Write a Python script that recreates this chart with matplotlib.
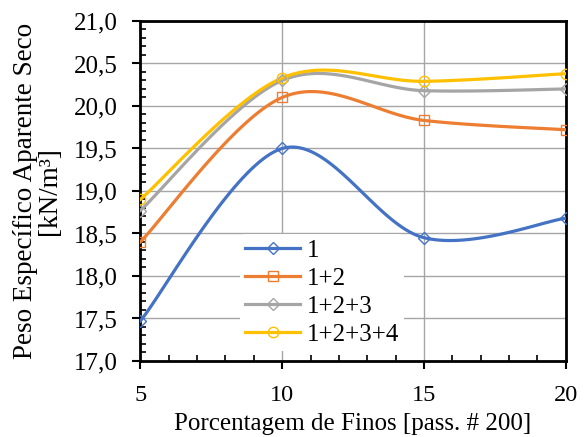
import numpy as np
import matplotlib
matplotlib.use("Agg")
import matplotlib.pyplot as plt
from matplotlib.ticker import MultipleLocator, FuncFormatter

finos = [5, 10, 15, 20]
s1 = [17.47, 19.50, 18.45, 18.68]
s12 = [18.40, 20.10, 19.83, 19.72]
s123 = [18.77, 20.30, 20.18, 20.20]
s1234 = [18.90, 20.33, 20.29, 20.38]
labels = ["1", "1+2", "1+2+3", "1+2+3+4"]
colors = ["#4472C4", "#ED7D31", "#A5A5A5", "#FFC000"]
markers = ["D", "s", "D", "o"]


def smooth(x, y, n=40):
    # excel style bezier smoothing
    x = np.asarray(x, float)
    y = np.asarray(y, float)
    px = np.concatenate([[x[0]], x, [x[-1]]])
    py = np.concatenate([[y[0]], y, [y[-1]]])
    xs, ys = [], []
    t = np.linspace(0, 1, n)
    for i in range(len(x) - 1):
        p0 = np.array([px[i + 1], py[i + 1]])
        p3 = np.array([px[i + 2], py[i + 2]])
        p1 = p0 + (np.array([px[i + 2], py[i + 2]]) - np.array([px[i], py[i]])) / 6
        p2 = p3 - (np.array([px[i + 3], py[i + 3]]) - np.array([px[i + 1], py[i + 1]])) / 6
        b = ((1 - t) ** 3)[:, None] * p0 + (3 * (1 - t) ** 2 * t)[:, None] * p1 \
            + (3 * (1 - t) * t ** 2)[:, None] * p2 + (t ** 3)[:, None] * p3
        xs.extend(b[:, 0])
        ys.extend(b[:, 1])
    return xs, ys


plt.rcParams['font.family'] = ['Liberation Serif', 'DejaVu Serif']
fig, ax = plt.subplots(figsize=(5.87, 4.37), dpi=100)
fig.subplots_adjust(left=0.239, right=0.964, top=0.952, bottom=0.174)

for ys, lab, c, m in zip([s1, s12, s123, s1234], labels, colors, markers):
    ms = 7.5 if m != 'D' else 6
    sx, sy = smooth(finos, ys)
    ax.plot(sx, sy, color=c, lw=2.3, zorder=3)
    ax.plot(finos, ys, ls='none', marker=m, ms=ms, mfc='none', mec=c, mew=1, zorder=4)
    ax.plot([], [], color=c, lw=2.3, marker=m, ms=ms, mfc='none', mec=c, label=lab)

ax.set_xlim(5, 20)
ax.set_ylim(17, 21)
ax.xaxis.set_major_locator(MultipleLocator(5))
ax.xaxis.set_minor_locator(MultipleLocator(1))
ax.yaxis.set_major_locator(MultipleLocator(0.5))
ax.yaxis.set_minor_locator(MultipleLocator(0.1))
ax.yaxis.set_major_formatter(FuncFormatter(lambda v, p: f"{v:.1f}".replace('.', ',')))
ax.grid(True, which='major', color='#A6A6A6', lw=1)
ax.set_axisbelow(True)
for s in ax.spines.values():
    s.set_linewidth(2)
    s.set_color('black')
ax.tick_params(which='minor', direction='in', length=4, width=1.2)
ax.tick_params(axis='x', which='major', direction='out', length=6, width=1.5,
               labelsize=17.5, pad=11)
ax.tick_params(axis='y', which='major', direction='out', length=6, width=1.5,
               labelsize=18, pad=10)

ax.set_xlabel("Porcentagem de Finos [pass. # 200]", fontsize=18, labelpad=5)
ax.set_ylabel("Peso Específico Aparente Seco\n[kN/m³]", fontsize=19.5, linespacing=0.93,
              labelpad=9)

leg = ax.legend(loc='lower left', bbox_to_anchor=(0.235, 0.03), fontsize=18, frameon=True,
                handlelength=2.2, handletextpad=0.25, labelspacing=0.22, borderpad=0.2,
                borderaxespad=0)
leg.get_frame().set_edgecolor('none')
leg.get_frame().set_facecolor('white')
leg.get_frame().set_alpha(1)

fig.savefig("out.png", dpi=100)
